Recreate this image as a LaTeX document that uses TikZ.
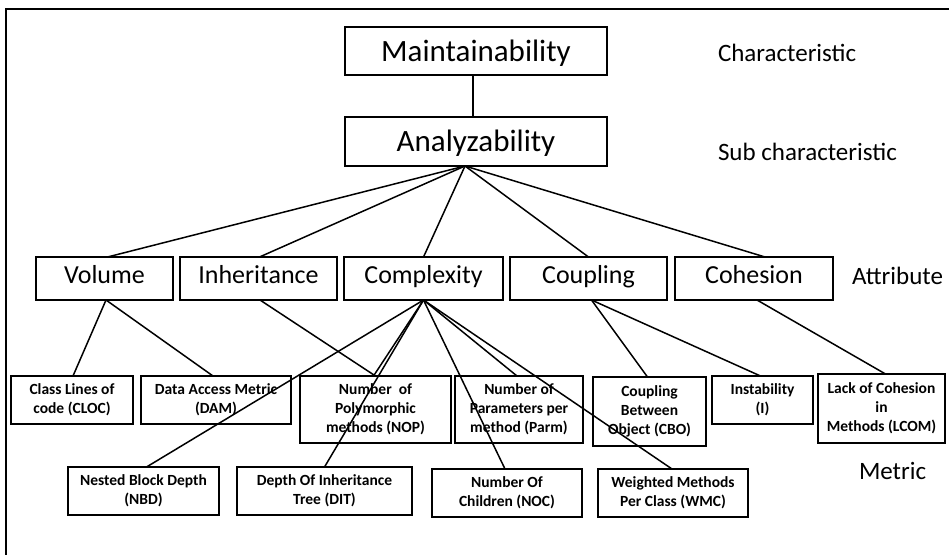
\documentclass[tikz,border=0pt]{standalone}
\usepackage{fontspec}
\setmainfont{Carlito}
\begin{document}
\begin{tikzpicture}[x=1pt,y=-1pt,
  every node/.style={inner sep=0pt, outer sep=0pt},
  topbox/.style={draw, line width=1.6pt, minimum width=262pt, minimum height=48pt, text height=24pt, text depth=4pt, font=\fontsize{31}{35}\selectfont},
  attrbox/.style={draw, line width=1.6pt, minimum height=43pt, text height=18pt, text depth=9pt, font=\fontsize{26}{30}\selectfont},
  metbox/.style={draw, line width=1.6pt, align=center, font=\fontsize{15.5}{18.8}\selectfont\bfseries},
  lbl/.style={anchor=west, font=\fontsize{25}{29}\selectfont},
  conn/.style={line width=1.5pt}]
\useasboundingbox (0,0) rectangle (949,555);
% frame (only left and top edges are visible)
\coordinate (frtr) at (949,9);
\coordinate (frtl) at (6,9);
\coordinate (frbl) at (6,555);
\draw[line width=1.8pt] (frtr) -- (frtl) -- (frbl);

% top levels
\node[topbox] (maint) at (476,51) {Maintainability};
\node[topbox, minimum height=49pt] (ana) at (476,141.5) {Analyzability};

% attributes
\node[attrbox, minimum width=137pt] (vol)  at (104.5,278.5) {Volume};
\node[attrbox, minimum width=157pt] (inh)  at (258.5,278.5) {Inheritance};
\node[attrbox, minimum width=159pt] (comp) at (423.5,278.5) {Complexity};
\node[attrbox, minimum width=157pt] (coup) at (588.5,278.5) {Coupling};
\node[attrbox, minimum width=158pt] (coh)  at (754,278.5) {Cohesion};

% metrics row 1
\node[metbox, minimum width=122pt, minimum height=48pt] (cloc) at (72,400) {Class Lines of\\code (CLOC)};
\node[metbox, minimum width=150pt, minimum height=48pt] (dam)  at (216,400) {Data Access Metric\\(DAM)};
\node[metbox, minimum width=151pt, minimum height=67pt] (nop)  at (375.5,409.5) {Number\ \ of\\Polymorphic\\methods (NOP)};
\node[metbox, minimum width=128pt, minimum height=67pt] (parm) at (519,409.5) {Number of\\Parameters per\\method (Parm)};
\node[metbox, minimum width=113pt, minimum height=69pt] (cbo)  at (649.5,411.5) {Coupling\\Between\\Object (CBO)};
\node[metbox, minimum width=101pt, minimum height=48pt] (inst) at (762.5,400) {Instability\\(I)};
\node[metbox, minimum width=127pt, minimum height=69pt] (lcom) at (881.5,408.5) {Lack of Cohesion\\in\\Methods (LCOM)};

% metrics row 2
\node[metbox, minimum width=151pt, minimum height=48pt] (nbd) at (143.5,491) {Nested Block Depth\\(NBD)};
\node[metbox, minimum width=175pt, minimum height=48pt] (dit) at (324.5,491) {Depth Of Inheritance\\Tree (DIT)};
\node[metbox, minimum width=150pt, minimum height=48pt] (noc) at (507,493) {Number Of\\Children (NOC)};
\node[metbox, minimum width=150pt, minimum height=48pt] (wmc) at (673,493) {Weighted Methods\\Per Class (WMC)};

% level labels
\node[lbl] (lchar) at (718,53) {Characteristic};
\node[lbl] (lsub)  at (718,152) {Sub characteristic};
\node[lbl] (lattr) at (852,276) {Attribute};
\node[lbl] (lmet)  at (859,471) {Metric};

% connectors
\draw[conn] ([xshift=-3pt]maint.south) -- ([xshift=-3pt]ana.north);
\draw[conn] ([xshift=-11pt]ana.south) -- ([xshift=3pt]vol.north);
\draw[conn] ([xshift=-11pt]ana.south) -- ([xshift=1pt]inh.north);
\draw[conn] ([xshift=-11pt]ana.south) -- (comp.north);
\draw[conn] ([xshift=-11pt]ana.south) -- (coup.north);
\draw[conn] ([xshift=-11pt]ana.south) -- ([xshift=11pt]coh.north);

\draw[conn] ([xshift=1.5pt]vol.south) -- ([xshift=1pt]cloc.north);
\draw[conn] ([xshift=1.5pt]vol.south) -- ([xshift=-3pt]dam.north);
\draw[conn] ([xshift=1.5pt]inh.south) -- (nop.north);
\draw[conn] (comp.south) -- ([xshift=3pt]nbd.north);
\draw[conn] (comp.south) -- ([xshift=-2pt]nop.north);
\draw[conn] (comp.south) -- (dit.north);
\draw[conn] (comp.south) -- ([xshift=-2pt]noc.north);
\draw[conn] (comp.south) -- ([xshift=-2pt]parm.north);
\draw[conn] (comp.south) -- ([xshift=-1pt]wmc.north);
\draw[conn] ([xshift=3pt]coup.south) -- ([xshift=-2pt]cbo.north);
\draw[conn] ([xshift=3pt]coup.south) -- ([xshift=-2pt]inst.north);
\draw[conn] ([xshift=3pt]coh.south) -- ([xshift=4pt]lcom.north);
\end{tikzpicture}
\end{document}
